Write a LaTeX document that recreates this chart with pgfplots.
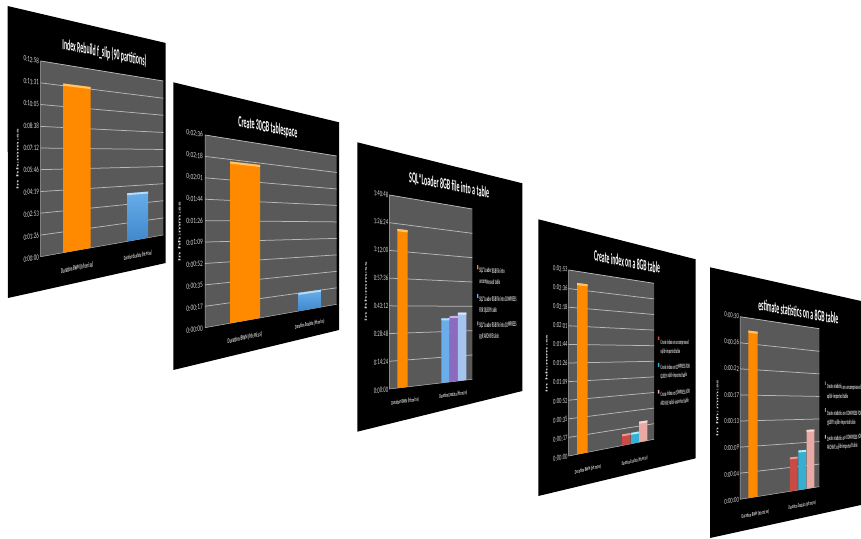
\documentclass[border=0pt]{standalone}
\usepackage{pgfplots}
\pgfplotsset{compat=1.18}
\usepackage{fontspec}
\setmainfont{Carlito}
\definecolor{plotgray}{HTML}{595959}
\definecolor{gridc}{HTML}{B8B8B8}
\definecolor{txtc}{HTML}{DADADA}
\definecolor{orangeA}{HTML}{FF8A00}
\definecolor{orangeC}{HTML}{FFC468}
\definecolor{blueT}{HTML}{69AEEA}
\definecolor{blueB}{HTML}{3F88CC}
\definecolor{blueC}{HTML}{B5DCFA}
\definecolor{purpA}{HTML}{8A6BBE}
\definecolor{purpC}{HTML}{C7B4E2}
\definecolor{paleA}{HTML}{A6C4F0}
\definecolor{paleC}{HTML}{DDE8FA}
\definecolor{redA}{HTML}{C94B45}
\definecolor{redC}{HTML}{EE9A92}
\definecolor{cyanA}{HTML}{35AFD2}
\definecolor{cyanC}{HTML}{B6EAF5}
\definecolor{pinkA}{HTML}{E9A9A4}
\definecolor{pinkC}{HTML}{F8DAD6}

% Perspective frame of one chart: the plot rectangle u,v in [0,1] is sent
% to a quadrilateral given by its corners BL, BR, TR, TL in page pixels.
\newcommand\Hset[8]{%
  \edef\xA{#1}\edef\yA{\fpeval{538-(#2)}}%
  \edef\xB{#3}\edef\yB{\fpeval{538-(#4)}}%
  \edef\xC{#5}\edef\yC{\fpeval{538-(#6)}}%
  \edef\xD{#7}\edef\yD{\fpeval{538-(#8)}}%
  \edef\dxa{\fpeval{\xB-\xC}}\edef\dxb{\fpeval{\xD-\xC}}\edef\sx{\fpeval{\xA-\xB+\xC-\xD}}%
  \edef\dya{\fpeval{\yB-\yC}}\edef\dyb{\fpeval{\yD-\yC}}\edef\sy{\fpeval{\yA-\yB+\yC-\yD}}%
  \edef\den{\fpeval{\dxa*\dyb-\dxb*\dya}}%
  \edef\Hg{\fpeval{round((\sx*\dyb-\dxb*\sy)/\den,7)}}%
  \edef\Hh{\fpeval{round((\dxa*\sy-\sx*\dya)/\den,7)}}%
  \edef\Ha{\fpeval{round(\xB-\xA+\Hg*\xB,5)}}%
  \edef\Hb{\fpeval{round(\xD-\xA+\Hh*\xD,5)}}%
  \edef\Hc{\xA}%
  \edef\Hd{\fpeval{round(\yB-\yA+\Hg*\yB,5)}}%
  \edef\He{\fpeval{round(\yD-\yA+\Hh*\yD,5)}}%
  \edef\Hf{\yA}%
}
% projected table columns: u across the plot, v in seconds up to \Vmax
\newcommand\PX{(\Ha*\thisrow{u}+\Hb*\thisrow{v}/\Vmax+\Hc)/(\Hg*\thisrow{u}+\Hh*\thisrow{v}/\Vmax+1)}
\newcommand\PY{(\Hd*\thisrow{u}+\He*\thisrow{v}/\Vmax+\Hf)/(\Hg*\thisrow{u}+\Hh*\thisrow{v}/\Vmax+1)}

\pgfplotsset{canvas/.style={x=1pt,y=1pt,xmin=0,xmax=861,ymin=0,ymax=538,
  hide axis,anchor=origin,at={(0,0)}}}

% black slide behind a chart, corners in page pixels
\newcommand\slide[8]{\addplot[fill=black,draw=none] table[x=x,y expr=538-\thisrow{y},row sep=\\]
  {x y\\ #1 #2\\ #3 #4\\ #5 #6\\ #7 #8\\} -- cycle;}
% plot rectangle
\newcommand\plotarea{\addplot[fill=plotgray,draw=none] table[x expr=\PX,y expr=\PY,row sep=\\,col sep=comma]
  {u,v\\ 0,0\\ 1,0\\ 1,\Vmax\\ 0,\Vmax\\} -- cycle;}
\newcommand\gline[1]{\addplot[gridc,line width=0.75pt] table[x expr=\PX,y expr=\PY,row sep=\\,col sep=comma]
  {u,v\\ 0,#1\\ 1,#1\\};}
\newcommand\axisline{\addplot[gridc,line width=0.5pt] table[x expr=\PX,y expr=\PY,row sep=\\,col sep=comma]
  {u,v\\ 0,\Vmax\\ 0,0\\ 1,0\\};}
% bar: body style, cap colour, u from, u to, value, cap thickness
\newcommand\vbar[6]{%
  \addplot[draw=none,#1] table[x expr=\PX,y expr=\PY,row sep=\\,col sep=comma]
    {u,v\\ #3,0\\ #3,#5\\ #4,#5\\ #4,0\\} -- cycle;
  \pgfmathsetmacro\capv{#5-#6}%
  \addplot[draw=none,fill=#2] table[x expr=\PX,y expr=\PY,row sep=\\,col sep=comma]
    {u,v\\ #3,\capv\\ #3,#5\\ #4,#5\\ #4,\capv\\} -- cycle;}
% small legend key, u and v are its centre
\newcommand\lkey[3]{\pgfmathsetmacro\ka{#2-0.009}\pgfmathsetmacro\kb{#2+0.009}%
  \pgfmathsetmacro\kc{(#3-0.012)*\Vmax}\pgfmathsetmacro\kd{(#3+0.012)*\Vmax}%
  \addplot[fill=#1,draw=none] table[x expr=\PX,y expr=\PY,row sep=\\,col sep=comma]
    {u,v\\ \ka,\kc\\ \ka,\kd\\ \kb,\kd\\ \kb,\kc\\} -- cycle;}

% text lying in the plane of the chart; v is a fraction of the plot height
\newcommand\ptxt[5]{%
  \edef\tw{\fpeval{\Hg*(#1)+\Hh*(#2)+1}}%
  \edef\tX{\fpeval{(\Ha*(#1)+\Hb*(#2)+\Hc)/\tw}}%
  \edef\tY{\fpeval{(\Hd*(#1)+\He*(#2)+\Hf)/\tw}}%
  \edef\mA{\fpeval{round((\Ha-\Hg*\tX)/\tw/\Wz,5)}}%
  \edef\mB{\fpeval{round((\Hd-\Hg*\tY)/\tw/\Wz,5)}}%
  \edef\mC{\fpeval{round((\Hb-\Hh*\tX)/\tw/220,5)}}%
  \edef\mD{\fpeval{round((\He-\Hh*\tY)/\tw/220,5)}}%
  \node[anchor=#3,inner sep=0pt,outer sep=0pt,text=txtc,transform shape,
        cm={\mA,\mB,\mC,\mD,(0pt,0pt)}] at (\tX,\tY) {\fontsize{#4}{#4}\selectfont #5};}
\newcommand\tick[2]{\pgfmathsetmacro\tv{#1}\ptxt{-0.012}{\tv}{east}{7.4}{\scalebox{1}[1.25]{#2}}}
\newcommand\yttl[1]{\ptxt{#1}{0.5}{center}{4.6}{\bfseries\rotatebox{90}{\scalebox{2.8}[1]{in hh:mm:ss}}}}
% chart title: u, v, width and height on the page in pixels, text
\newcommand\ttl[5]{\ptxt{#1}{#2}{center}{10}{\color{white}\bfseries\resizebox{\fpeval{#3/\mA}pt}{\fpeval{#4/\mD}pt}{#5}}}
\newcommand\cat[4]{\ptxt{#1}{#2}{center}{#3}{\bfseries\scalebox{1}[1.6]{#4}}}
\newcommand\leg[3]{\ptxt{#1}{#2}{west}{5.2}{\bfseries\scalebox{1}[1.8]{#3}}}

\begin{document}
\begin{tikzpicture}[x=1pt,y=1pt]
\useasboundingbox (0,0) rectangle (861,538);

% ---- Index rebuild
\Hset{40.7}{256.7}{163.3}{235}{163.3}{81}{40.7}{61}
\def\Vmax{778}\def\Wz{233}
\begin{axis}[canvas]
\slide{7.5}{6}{165.7}{43}{165.7}{263}{8}{298}
\plotarea
\pgfplotsinvokeforeach{86,173,259,346,432,518,605,691,778}{\gline{#1}}
\axisline
\vbar{fill=orangeA}{orangeC}{0.15}{0.35}{700}{9}
\vbar{shade,top color=blueT,bottom color=blueB}{blueC}{0.652}{0.847}{225}{9}
\end{axis}
\ttl{0.46}{1.106}{84}{11.5}{Index Rebuild f\_slip (90 partitions)}
\yttl{-0.144}
\tick{0}{0:00:00}\tick{1/9}{0:01:26}\tick{2/9}{0:02:53}\tick{3/9}{0:04:19}\tick{4/9}{0:05:46}
\tick{5/9}{0:07:12}\tick{6/9}{0:08:38}\tick{7/9}{0:10:05}\tick{8/9}{0:11:31}\tick{1}{0:12:58}
\cat{0.25}{-0.097}{5.3}{Duration BWN (hh:mi:ss)}
\cat{0.75}{-0.1}{5.3}{Duration Exadata (hh:mi:ss)}

% ---- Create tablespace
\Hset{205}{327.7}{336.7}{304.3}{336.7}{156}{205}{135}
\def\Vmax{156}\def\Wz{237}
\begin{axis}[canvas]
\slide{173.3}{82.3}{339}{122.3}{339}{330}{173.3}{370}
\plotarea
\pgfplotsinvokeforeach{17.33,34.67,52,69.33,86.67,104,121.33,138.67,156}{\gline{#1}}
\axisline
\vbar{fill=orangeA}{orangeC}{0.153}{0.356}{137}{1.8}
\vbar{shade,top color=blueT,bottom color=blueB}{blueC}{0.652}{0.85}{17.5}{1.8}
\end{axis}
\ttl{0.413}{1.1}{59}{11}{Create 30GB tablespace}
\yttl{-0.144}
\tick{0}{0:00:00}\tick{1/9}{0:00:17}\tick{2/9}{0:00:35}\tick{3/9}{0:00:52}\tick{4/9}{0:01:09}
\tick{5/9}{0:01:26}\tick{6/9}{0:01:44}\tick{7/9}{0:02:01}\tick{8/9}{0:02:18}\tick{1}{0:02:36}
\cat{0.25}{-0.096}{5.3}{Duration BWN (hh:mi:ss)}
\cat{0.75}{-0.096}{5.3}{Duration Exadata (hh:mi:ss)}

% ---- SQL*Loader
\Hset{389.3}{389}{472.3}{379.3}{472.3}{209}{389.3}{195}
\def\Vmax{6048}\def\Wz{150}
\begin{axis}[canvas]
\slide{357.3}{142.3}{522.3}{183.3}{522.3}{391}{357.3}{431.7}
\plotarea
\pgfplotsinvokeforeach{864,1728,2592,3456,4320,5184,6048}{\gline{#1}}
\axisline
\vbar{fill=orangeA}{orangeC}{0.085}{0.2}{5020}{70}
\vbar{fill=blueT}{blueC}{0.595}{0.70}{2180}{70}
\vbar{fill=purpA}{purpC}{0.70}{0.808}{2255}{70}
\vbar{fill=paleA}{paleC}{0.808}{0.918}{2370}{70}
\lkey{orangeA}{1.074}{0.66}
\lkey{blueT}{1.074}{0.49}
\lkey{purpA}{1.074}{0.328}
\end{axis}
\ttl{0.695}{1.11}{80}{11}{SQL*Loader 8GB file into a table}
\yttl{-0.24}
\tick{0}{0:00:00}\tick{1/7}{0:14:24}\tick{2/7}{0:28:48}\tick{3/7}{0:43:12}
\tick{4/7}{0:57:36}\tick{5/7}{1:12:00}\tick{6/7}{1:26:24}\tick{1}{1:40:48}
\cat{0.17}{-0.075}{4.4}{Duration BWN (hh:mi:ss)}
\cat{0.747}{-0.075}{4.7}{Duration Exadata (hh:mi:ss)}
\leg{1.097}{0.644}{SQL*Loader 8GB file into}
\leg{1.097}{0.575}{uncompressed table}
\leg{1.097}{0.472}{SQL*Loader 8GB file into COMPRESS}
\leg{1.097}{0.407}{FOR QUERY table}
\leg{1.097}{0.314}{SQL*Loader 8GB file into COMPRESS}
\leg{1.097}{0.249}{FOR ARCHIVE table}

% ---- Create index
\Hset{568.7}{456}{654}{439.3}{654}{283.3}{568.7}{270}
\def\Vmax{173}\def\Wz{163}
\begin{axis}[canvas]
\slide{538.3}{219.3}{695.7}{259.3}{695.7}{458.3}{538.3}{496}
\plotarea
\pgfplotsinvokeforeach{17.3,34.6,51.9,69.2,86.5,103.8,121.1,138.4,155.7,173}{\gline{#1}}
\axisline
\vbar{fill=orangeA}{orangeC}{0.083}{0.194}{162}{2}
\vbar{fill=redA}{redC}{0.585}{0.685}{11.5}{2}
\vbar{fill=cyanA}{cyanC}{0.695}{0.80}{11.5}{2}
\vbar{fill=pinkA}{pinkC}{0.80}{0.91}{22}{2}
\lkey{redA}{1.065}{0.648}
\lkey{cyanA}{1.065}{0.475}
\lkey{pinkA}{1.065}{0.302}
\end{axis}
\ttl{0.645}{1.105}{66}{11}{Create index on a 8GB table}
\yttl{-0.21}
\tick{0}{0:00:00}\tick{0.1}{0:00:17}\tick{0.2}{0:00:35}\tick{0.3}{0:00:52}\tick{0.4}{0:01:09}
\tick{0.5}{0:01:26}\tick{0.6}{0:01:44}\tick{0.7}{0:02:01}\tick{0.8}{0:02:18}\tick{0.9}{0:02:36}\tick{1}{0:02:53}
\cat{0.198}{-0.096}{4.4}{Duration BWN (hh:mi:ss)}
\cat{0.741}{-0.11}{4.7}{Duration Exadata (hh:mi:ss)}
\leg{1.094}{0.622}{Create index on uncompressed}
\leg{1.094}{0.562}{sqlldr-imported table}
\leg{1.094}{0.46}{Create index on COMPRESS FOR}
\leg{1.094}{0.40}{QUERY sqlldr-imported table}
\leg{1.094}{0.285}{Create index on COMPRESS FOR}
\leg{1.094}{0.22}{ARCHIVE sqlldr-imported table}

% ---- Estimate statistics
\Hset{740}{499.3}{819.3}{486.7}{819.3}{328.7}{740}{316.7}
\def\Vmax{30}\def\Wz{144}
\begin{axis}[canvas]
\slide{710}{267.3}{870}{303}{870}{503}{710}{538}
\plotarea
\pgfplotsinvokeforeach{4.29,8.57,12.86,17.14,21.43,25.71,30}{\gline{#1}}
\axisline
\vbar{fill=orangeA}{orangeC}{0.092}{0.199}{27.9}{0.35}
\vbar{fill=redA}{redC}{0.595}{0.697}{6.1}{0.35}
\vbar{fill=cyanA}{cyanC}{0.706}{0.811}{7.2}{0.35}
\vbar{fill=pinkA}{pinkC}{0.82}{0.928}{10.9}{0.35}
\lkey{redA}{1.089}{0.656}
\lkey{cyanA}{1.089}{0.485}
\lkey{pinkA}{1.089}{0.314}
\end{axis}
\ttl{0.706}{1.084}{80}{11}{estimate statistics on a 8GB table}
\yttl{-0.24}
\tick{0}{0:00:00}\tick{1/7}{0:00:04}\tick{2/7}{0:00:09}\tick{3/7}{0:00:13}
\tick{4/7}{0:00:17}\tick{5/7}{0:00:22}\tick{6/7}{0:00:26}\tick{1}{0:00:30}
\cat{0.171}{-0.098}{4.4}{Duration BWN (hh:mi:ss)}
\cat{0.76}{-0.098}{4.7}{Duration Exadata (hh:mi:ss)}
\leg{1.114}{0.635}{Create statistics on uncompressed}
\leg{1.114}{0.57}{sqlldr-imported table}
\leg{1.114}{0.464}{Create statistics on COMPRESS FOR}
\leg{1.114}{0.40}{QUERY sqlldr-imported table}
\leg{1.114}{0.30}{Create statistics on COMPRESS FOR}
\leg{1.114}{0.24}{ARCHIVE sqlldr-imported table}
\end{tikzpicture}
\end{document}
